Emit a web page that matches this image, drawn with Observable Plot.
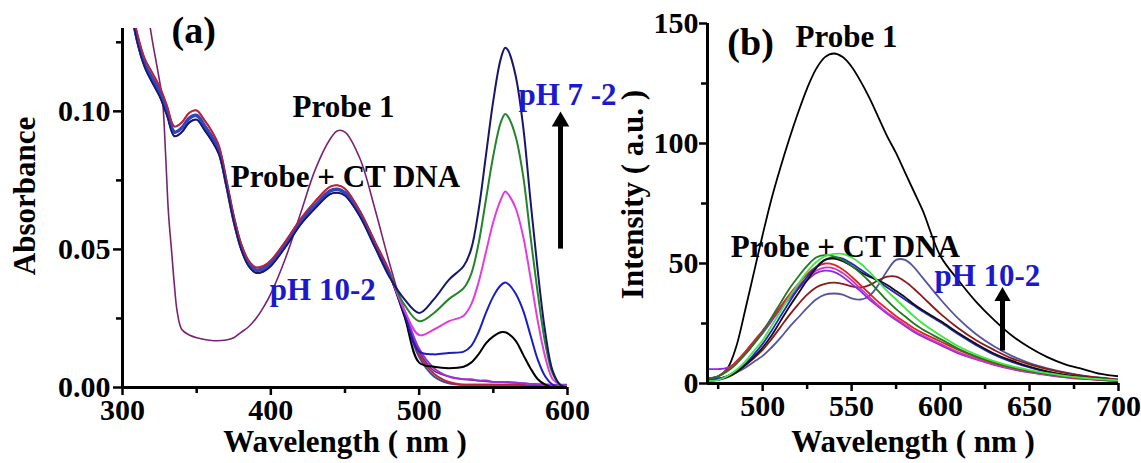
<!DOCTYPE html>
<html><head><meta charset="utf-8">
<script src="https://cdn.jsdelivr.net/npm/d3@7"></script>
<script src="https://cdn.jsdelivr.net/npm/@observablehq/plot@0.6"></script>
<style>
body{margin:0;background:#fff;width:1141px;height:463px;position:relative;overflow:hidden;font-family:"Liberation Serif","Times New Roman",serif;}
#a,#b{position:absolute;top:0;}
#a{left:0;}
#b{left:600px;}
svg{overflow:visible;}
</style></head><body><div id="a"></div><div id="b"></div>
<script>
// ---------- Panel (a): UV-vis absorbance ----------
const aHeadWl = [305,310,315,320,325,330,335,340,345,350,355,360,365,370,375,380,385,390,395,400,410,420,430,440,445,450,460,470,480];
const aHeadDna = [0.140,0.126,0.117,0.112,0.107,0.100,0.0925,0.094,0.0975,0.0985,0.095,0.091,0.086,0.074,0.061,0.051,0.045,0.0425,0.043,0.045,0.052,0.060,0.066,0.0712,0.0718,0.0705,0.063,0.052,0.041];
const aHeadDnaUpper = [0.141,0.128,0.119,0.114,0.109,0.102,0.0945,0.096,0.0995,0.1003,0.097,0.093,0.0875,0.075,0.062,0.052,0.046,0.0435,0.044,0.046,0.053,0.061,0.0675,0.0727,0.0732,0.072,0.064,0.053,0.042];
const aHeadDnaLower = [0.139,0.125,0.116,0.1105,0.1055,0.0985,0.091,0.0925,0.096,0.097,0.0935,0.0895,0.0845,0.073,0.060,0.050,0.044,0.0415,0.042,0.044,0.051,0.059,0.065,0.070,0.0705,0.0695,0.062,0.051,0.040];
const aTailWl = [490,500,510,520,530,535,540,545,550,555,558,560,565,570,575,580,585,590,595,600];
const aTailNavy    = [0.032,0.027,0.032,0.039,0.044,0.050,0.064,0.084,0.104,0.119,0.123,0.122,0.113,0.095,0.068,0.042,0.020,0.006,0.001,0.000];
const aTailGreen   = [0.030,0.024,0.027,0.032,0.036,0.041,0.052,0.068,0.084,0.096,0.099,0.098,0.091,0.077,0.055,0.034,0.016,0.005,0.001,0.000];
const aTailMagenta = [0.028,0.019,0.021,0.024,0.026,0.030,0.038,0.049,0.060,0.068,0.071,0.070,0.065,0.055,0.040,0.024,0.011,0.003,0.001,0.000];
const aTailBlue    = [0.027,0.013,0.012,0.0125,0.013,0.015,0.020,0.027,0.033,0.037,0.038,0.0375,0.034,0.028,0.019,0.010,0.004,0.001,0.000,0.000];
const aTailBlack   = [0.026,0.009,0.0075,0.007,0.0075,0.009,0.012,0.016,0.0185,0.020,0.020,0.0195,0.017,0.012,0.007,0.003,0.001,0.000,0.000,0.000];
const aTailRed     = [0.027,0.012,0.005,0.002,0.001,0.001,0.001,0.001,0.001,0.001,0.001,0.001,0.001,0.001,0.0005,0.0005,0.0003,0.0002,0.0001,0.000];
const aTailViolet  = [0.028,0.014,0.007,0.004,0.003,0.003,0.0025,0.0025,0.002,0.002,0.002,0.002,0.0018,0.0015,0.0013,0.0012,0.0011,0.001,0.001,0.001];
const aTailSteel   = [0.026,0.011,0.004,0.0015,0.001,0.001,0.001,0.001,0.001,0.001,0.001,0.001,0.001,0.0008,0.0006,0.0005,0.0004,0.0003,0.0002,0.0002];
const aProbeWl  = [315,318,320,323,325,327,329,331,333,335,337,340,345,350,360,370,375,380,385,390,395,400,410,420,430,440,445,450,460,470,480,490,500,510,520,530,540,550,560,570,580,590,600];
const aProbeAbs = [0.150,0.133,0.126,0.117,0.111,0.104,0.085,0.063,0.050,0.037,0.027,0.021,0.019,0.018,0.017,0.0172,0.018,0.020,0.022,0.025,0.029,0.034,0.047,0.063,0.079,0.090,0.093,0.0925,0.083,0.065,0.045,0.027,0.013,0.006,0.004,0.003,0.0025,0.002,0.0018,0.0015,0.0012,0.001,0.001];
const aTicksMajorX = [300,400,500,600], aTicksMinorX = [350,450,550];
const aTicksMajorY = [0,0.05,0.10], aTicksMinorY = [0.025,0.075,0.125];

// ---------- Panel (b): fluorescence intensity ----------
const bWl = [469,475,480,485,490,495,500,505,510,515,520,525,530,535,540,545,550,555,560,565,570,575,580,585,590,600,610,620,630,640,650,660,670,680,690,700];
const bProbe1    = [2,3,6,15,30,46,62,77,90,102,113,123,131,136,137.5,136,132,126,119,111,103,96,88,80,72,53,43,34,26.5,20,15,11,8,6,4,3];
const bSlate     = [1.5,2,3,4.5,6.5,9,11.5,15,19,23.5,27.5,31.5,35,37,37.5,37,35.5,35,36.5,41,47,51.5,51.5,48.5,44,35,27,20.5,15.5,11.5,8.5,6.3,4.6,3.3,2.4,1.7];
const bMaroon    = [1.5,2,3,5,7.5,10.5,14,18.5,23.5,28.5,33,37,40,41.5,42,41.5,40.5,40,41,43,44.5,44.5,42.5,39.5,36,29,23,18,14,10.5,8,6,4.4,3.2,2.3,1.6];
const bViolet    = [6,6,6.5,8.5,12,16.5,21,26,31,35.5,39.5,43,46,47,46.5,44.5,41.5,38.5,35,32,29,26.5,24,21.5,19.5,16,12.5,10,7.8,6,4.6,3.5,2.6,1.9,1.4,1];
const bMagenta   = [2,3,5.5,9,13,17.5,22,27,32,36.5,40.5,44,47,48.3,48,46,43,39.5,36,32.5,29.5,27,24.5,22,20,16.5,13,10.3,8,6.2,4.8,3.6,2.7,2,1.5,1];
const bRed       = [2,3,5.5,9,13,17.5,22,27,32,37,41.5,45.5,48.5,50,49.5,47.5,44.5,41,37.5,34,31,28,25.5,23,21,17.5,14,11,8.5,6.6,5.1,3.9,2.9,2.1,1.6,1.1];
const bBlue      = [1.5,2,3,5,8,12,16.5,22,28,34,39.5,44.5,48.5,51.5,52.5,52,50,47.5,45,42.5,40,37.5,35,32.5,30,25.5,20.5,16,12,9,6.7,4.8,3.5,2.5,1.8,1.2];
const bBlack     = [1,1.5,2.5,4.5,7.5,11,15,20,26,32,37.5,43,48,51.5,52,51,49,46.5,44.5,43,41,38.5,36,33,30.5,26,21,16.5,12.5,9.5,7,5,3.6,2.6,1.9,1.3];
const bDarkGreen = [2,3,5,8,12,16.5,21.5,27.5,33.5,39.5,44.5,49,52.5,53.5,53,51.5,49,46,42.5,38.5,34.5,31,28,25,22.5,18.5,14.5,11.3,8.8,6.8,5.3,4,3,2.2,1.6,1.1];
const bGreen     = [1,1.5,3,5.5,9,13.5,18,24,30,36,41.5,46.5,50.5,53,54,54,52.5,50,46.5,42.5,38.5,35,31.5,28,25,20,15.5,12,9.3,7.2,5.6,4.3,3.2,2.4,1.8,1.3];
const bTicksMajorX = [500,550,600,650,700], bTicksMinorX = [475,525,575,625,675];
const bTicksMajorY = [0,50,100,150], bTicksMinorY = [25,75,125];

// ---------- build tables ----------
const aSeries = [
  {name:"steel",   head:aHeadDna,      tail:aTailSteel,   color:"#2f4f9f"},
  {name:"red",     head:aHeadDnaUpper, tail:aTailRed,     color:"#c0203a"},
  {name:"violet",  head:aHeadDna,      tail:aTailViolet,  color:"#9a30d8"},
  {name:"black",   head:aHeadDna,      tail:aTailBlack,   color:"#000000"},
  {name:"blue",    head:aHeadDna,      tail:aTailBlue,    color:"#1c1cc4"},
  {name:"magenta", head:aHeadDna,      tail:aTailMagenta, color:"#e03ce0"},
  {name:"green",   head:aHeadDna,      tail:aTailGreen,   color:"#23842a"},
  {name:"navy",    head:aHeadDnaLower, tail:aTailNavy,    color:"#16166a"}
];
const aRows = s => [...aHeadWl.map((w,i)=>({wl:w, v:s.head[i]})), ...aTailWl.map((w,i)=>({wl:w, v:s.tail[i]}))];
const aHeadRows = arr => aHeadWl.map((w,i)=>({wl:w, v:arr[i]}));
const aProbeRows = aProbeWl.map((w,i)=>({wl:w, v:aProbeAbs[i]}));

const bSeries = [
  {v:bSlate, color:"#55559c"}, {v:bMaroon, color:"#8b1a1a"}, {v:bViolet, color:"#8a2be2"},
  {v:bMagenta, color:"#cc33cc"}, {v:bRed, color:"#e82020"}, {v:bBlue, color:"#2424c8"},
  {v:bBlack, color:"#111111"}, {v:bDarkGreen, color:"#1f7a1f"}, {v:bGreen, color:"#3ee83e"}
];
const bRows = arr => bWl.map((w,i)=>({wl:w, v:arr[i]}));

const font = '"Liberation Serif","Times New Roman",serif';
const blue = "#1a1acc";
const txt = (data, o) => Plot.text(data, {text: d=>d, fontSize: 31, fontWeight: "bold", fill: "black", textAnchor: "middle", lineAnchor: "middle", ...o});

// ---------- Panel (a) ----------
const plotA = Plot.plot({
  width: 600, height: 463,
  marginLeft: 122, marginRight: 33, marginTop: 28, marginBottom: 76,
  style: {fontFamily: font, fontWeight: "bold", fontSize: "30px", background: "transparent", overflow: "visible", color: "black"},
  x: {domain: [300, 600]},
  y: {domain: [0, 0.13]},
  marks: [
    Plot.line(aProbeRows, {x:"wl", y:"v", stroke:"#7a2272", strokeWidth:1.6, curve:"catmull-rom", clip:true}),
    ...aSeries.map(s => Plot.line(aRows(s), {x:"wl", y:"v", stroke:s.color, strokeWidth:2, curve:"catmull-rom", clip:true})),
    Plot.line(aHeadRows(aHeadDna), {x:"wl", y:"v", stroke:"#2f45bd", strokeWidth:3.5, curve:"catmull-rom", clip:true}),
    Plot.line(aHeadRows(aHeadDnaUpper), {x:"wl", y:"v", stroke:"#c0203a", strokeWidth:1.4, curve:"catmull-rom", clip:true}),
    Plot.line(aHeadRows(aHeadDnaLower), {x:"wl", y:"v", stroke:"#16166a", strokeWidth:1.4, curve:"catmull-rom", clip:true}),
    Plot.ruleY([0], {strokeWidth: 3}),
    Plot.ruleX([300], {strokeWidth: 3}),
    Plot.axisX({ticks: aTicksMajorX, tickSize: 8, tickPadding: 3, strokeWidth: 2.5, tickFormat: d=>String(d), label: null}),
    Plot.axisX({ticks: aTicksMinorX, tickSize: 6, strokeWidth: 2.5, tickFormat: ()=>"", label: null}),
    Plot.axisY({ticks: aTicksMajorY, tickSize: 9, tickPadding: 3, strokeWidth: 2.5, tickFormat: d3.format(".2f"), label: null}),
    Plot.axisY({ticks: aTicksMinorY, tickSize: 6, strokeWidth: 2.5, tickFormat: ()=>"", label: null}),
    txt(["Absorbance"], {frameAnchor:"left", rotate:-90, dx:-97, dy:-12}),
    txt(["Wavelength ( nm )"], {frameAnchor:"bottom", dy:55}),
    txt(["(a)"], {x:()=>348, y:()=>0.1293, fontSize:38}),
    txt(["Probe 1"], {x:()=>449, y:()=>0.1014}),
    txt(["Probe + CT DNA"], {x:()=>450.3, y:()=>0.0761}),
    txt(["pH 10-2"], {x:()=>435, y:()=>0.0351, fill: blue}),
    txt(["pH 7 -2"], {x:()=>600, y:()=>0.1058, fill: blue}),
    Plot.link([0], {x1:()=>595.3, x2:()=>595.3, y1:()=>0.0503, y2:()=>0.0955, stroke:"black", strokeWidth:5}),
    Plot.dot([0], {x:()=>595.3, y:()=>0.0963, symbol:"triangle", r:6.5, fill:"black", stroke:"none"})
  ]
});
document.getElementById("a").append(plotA);

// ---------- Panel (b) ----------
const plotB = Plot.plot({
  width: 541, height: 463,
  marginLeft: 107, marginRight: 23, marginTop: 23, marginBottom: 80,
  style: {fontFamily: font, fontWeight: "bold", fontSize: "30px", background: "transparent", overflow: "visible", color: "black"},
  x: {domain: [469, 700]},
  y: {domain: [0, 150]},
  marks: [
    Plot.line(bRows(bProbe1), {x:"wl", y:"v", stroke:"#000", strokeWidth:1.8, curve:"catmull-rom", clip:true}),
    ...bSeries.map(s => Plot.line(bRows(s.v), {x:"wl", y:"v", stroke:s.color, strokeWidth:1.8, curve:"catmull-rom", clip:true})),
    Plot.ruleY([0], {strokeWidth: 3}),
    Plot.ruleX([469], {strokeWidth: 3}),
    Plot.axisX({ticks: bTicksMajorX, tickSize: 8, tickPadding: 3, strokeWidth: 2.5, tickFormat: d=>String(d), label: null}),
    Plot.axisX({ticks: bTicksMinorX, tickSize: 6, strokeWidth: 2.5, tickFormat: ()=>"", label: null}),
    Plot.axisY({ticks: bTicksMajorY, tickSize: 8, tickPadding: 1, strokeWidth: 2.5, tickFormat: d=>String(d), label: null}),
    Plot.axisY({ticks: bTicksMinorY, tickSize: 6, strokeWidth: 2.5, tickFormat: ()=>"", label: null}),
    txt(["Intensity ( a.u. )"], {frameAnchor:"left", rotate:-90, dx:-74, dy:-9}),
    txt(["Wavelength ( nm )"], {frameAnchor:"bottom", dy:59}),
    txt(["(b)"], {x:()=>493.2, y:()=>142.1, fontSize:38}),
    txt(["Probe 1"], {x:()=>547.1, y:()=>144.2}),
    txt(["Probe + CT DNA"], {x:()=>546.5, y:()=>56.7}),
    txt(["pH 10-2"], {x:()=>626.3, y:()=>44.6, fill: blue}),
    Plot.link([0], {x1:()=>634.8, x2:()=>634.8, y1:()=>13.75, y2:()=>35.5, stroke:"black", strokeWidth:5}),
    Plot.dot([0], {x:()=>634.8, y:()=>36.3, symbol:"triangle", r:6, fill:"black", stroke:"none"})
  ]
});
document.getElementById("b").append(plotB);
</script>
</body></html>
